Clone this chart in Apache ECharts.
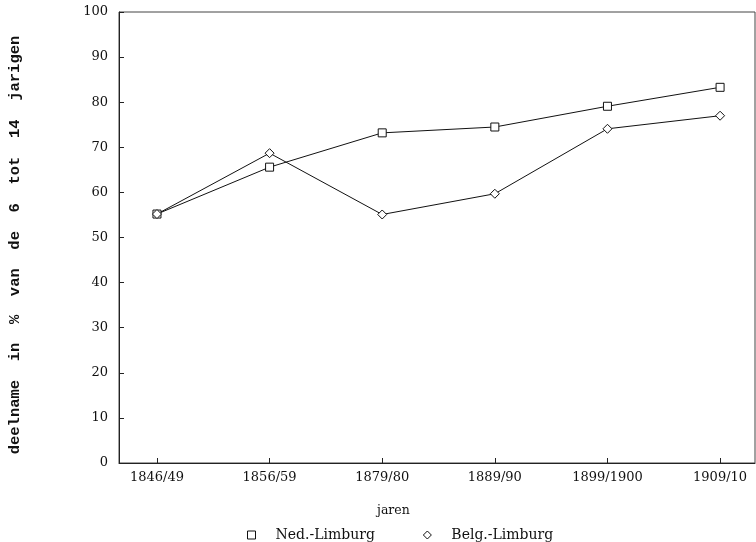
<!DOCTYPE html>
<html>
<head>
<meta charset="utf-8">
<script src="https://cdn.jsdelivr.net/npm/echarts@6/dist/echarts.min.js"></script>
<style>
  html, body { margin: 0; padding: 0; background: #fff; }
  #chart { width: 756px; height: 542px; }
</style>
</head>
<body>
<div id="chart"></div>
<script>
// perioden (x-as)
const periods = ['1846/49', '1856/59', '1879/80', '1889/90', '1899/1900', '1909/10']
// deelname in % per periode
const nedLimburg = [55.2, 65.6, 73.2, 74.5, 79.1, 83.3]
const belgLimburg = [55.2, 68.7, 55.1, 59.7, 74.1, 77.0]
const yTicks = [0, 10, 20, 30, 40, 50, 60, 70, 80, 90, 100]

const serif = 'DejaVu Serif'
const chart = echarts.init(document.getElementById('chart'))

const option = {
  animation: false,
  backgroundColor: '#fff',
  grid: {
    left: 119,
    right: 1,
    top: 12,
    bottom: 79,
    show: true,
    borderColor: '#444',
    borderWidth: 1
  },
  title: {
    text: 'jaren',
    left: 372,
    top: 499,
    textStyle: { fontFamily: serif, fontSize: 12.5, fontWeight: 'normal', color: '#111' }
  },
  legend: {
    left: 242,
    top: 523,
    itemWidth: 8,
    itemHeight: 8,
    itemGap: 48,
    textStyle: { fontFamily: serif, fontSize: 14, color: '#111', padding: [0, 0, 0, 15] },
    data: [
      { name: 'Ned.-Limburg', icon: 'rect', itemStyle: { color: '#fff', borderColor: '#111', borderWidth: 1 } },
      { name: 'Belg.-Limburg', icon: 'diamond', itemStyle: { color: '#fff', borderColor: '#111', borderWidth: 1 } }
    ]
  },
  graphic: [
    {
      type: 'text',
      x: 15,
      y: 245,
      rotation: Math.PI / 2,
      style: {
        text: 'deelname  in  %  van  de  6  tot  14  jarigen',
        font: 'bold 15.5px "Liberation Mono"',
        fill: '#111',
        align: 'center',
        verticalAlign: 'middle'
      }
    }
  ],
  xAxis: {
    type: 'value',
    min: -0.337,
    max: 5.31,
    splitLine: { show: false },
    axisLine: { show: true, onZero: false, lineStyle: { color: '#222', width: 1 } },
    axisTick: {
      show: true,
      inside: true,
      length: 5,
      customValues: periods.map((p, i) => i),
      lineStyle: { color: '#222' }
    },
    axisLabel: {
      customValues: periods.map((p, i) => i),
      formatter: (v) => periods[Math.round(v)],
      fontFamily: serif,
      fontSize: 13,
      color: '#111',
      margin: 8
    }
  },
  yAxis: {
    type: 'value',
    min: 0,
    max: 100,
    interval: 10,
    splitLine: { show: false },
    axisLine: { show: true, onZero: false, lineStyle: { color: '#222', width: 1 } },
    axisTick: { show: true, inside: true, length: 5, lineStyle: { color: '#222' } },
    axisLabel: {
      fontFamily: serif,
      fontSize: 13,
      color: '#111',
      margin: 11,
      formatter: (v) => (yTicks.includes(v) ? String(v) : '')
    }
  },
  series: [
    {
      name: 'Ned.-Limburg',
      type: 'line',
      data: nedLimburg.map((v, i) => [i, v]),
      symbol: 'rect',
      symbolSize: 8,
      lineStyle: { color: '#111', width: 1 },
      itemStyle: { color: '#fff', borderColor: '#111', borderWidth: 1 }
    },
    {
      name: 'Belg.-Limburg',
      type: 'line',
      data: belgLimburg.map((v, i) => [i, v]),
      symbol: 'diamond',
      symbolSize: 9,
      lineStyle: { color: '#111', width: 1 },
      itemStyle: { color: '#fff', borderColor: '#111', borderWidth: 1 }
    }
  ]
}

chart.setOption(option)
</script>
</body>
</html>
